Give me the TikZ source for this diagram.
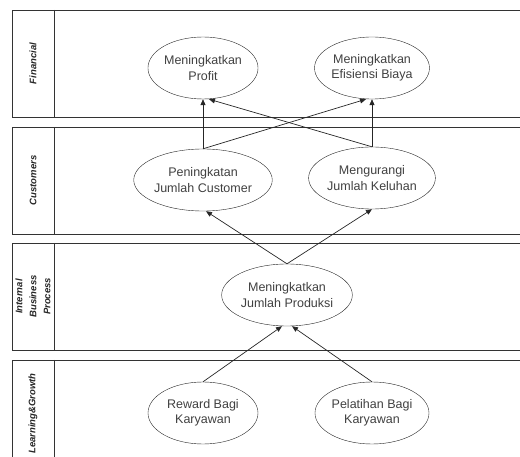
\documentclass[tikz,border=0pt]{standalone}
\usepackage{fontspec}
\setmainfont{Liberation Sans}
\usetikzlibrary{shapes.geometric,arrows.meta}

\tikzset{
  goal/.style={draw=black!85, ellipse, minimum width=110pt, minimum height=62pt,
    inner sep=0pt, align=center, text=black!75, font=\fontsize{12.5}{15.5}\selectfont},
  lanetext/.style={rotate=90, align=center, text=black!85,
    font=\fontsize{9.5}{14}\selectfont\bfseries\itshape},
  arr/.style={-{Triangle[length=6pt,width=5pt]}, black!85, line width=0.7pt}
}

\begin{document}
\begin{tikzpicture}[x=1pt,y=-1pt]
\useasboundingbox (0,0) rectangle (520,457);
\begin{scope}
\clip (0,0) rectangle (520,457);
\foreach \t/\l in {10/Financial, 127/Customers, 243/{Internal\\Business\\Process}, 360/{Learning\&Growth}}{
  \draw[black!80, line width=0.7pt] (12,\t) rectangle (530,\t+107);
  \draw[black!80, line width=0.7pt] (54,\t) -- (54,\t+107);
  \node[lanetext] at (33,\t+53.5) {\l};
}
\end{scope}

\node[goal] (prof) at (203,68) {Meningkatkan\\Profit};
\node[goal] (efis) at (372,68) {Meningkatkan\\Efisiensi Biaya};
\node[goal] (pen) at (203,180) {Peningkatan\\Jumlah Customer};
\node[goal] (meng) at (372,178) {Mengurangi\\Jumlah Keluhan};
\node[goal] (prod) at (287,295) {Meningkatkan\\Jumlah Produksi};
\node[goal] (rew) at (203,413) {Reward Bagi\\Karyawan};
\node[goal] (pel) at (372,413) {Pelatihan Bagi\\Karyawan};

\draw[arr] (pen.north) -- (prof.south);
\draw[arr] (pen.north) -- ([xshift=-6pt]efis.south);
\draw[arr] (meng.north) -- (efis.south);
\draw[arr] (meng.north) -- ([xshift=6pt]prof.south);
\draw[arr] (prod.north) -- ([xshift=3pt]pen.south);
\draw[arr] (prod.north) -- (meng.south);
\draw[arr] (rew.north) -- ([xshift=-5pt]prod.south);
\draw[arr] (pel.north) -- ([xshift=5pt]prod.south);
\end{tikzpicture}
\end{document}
